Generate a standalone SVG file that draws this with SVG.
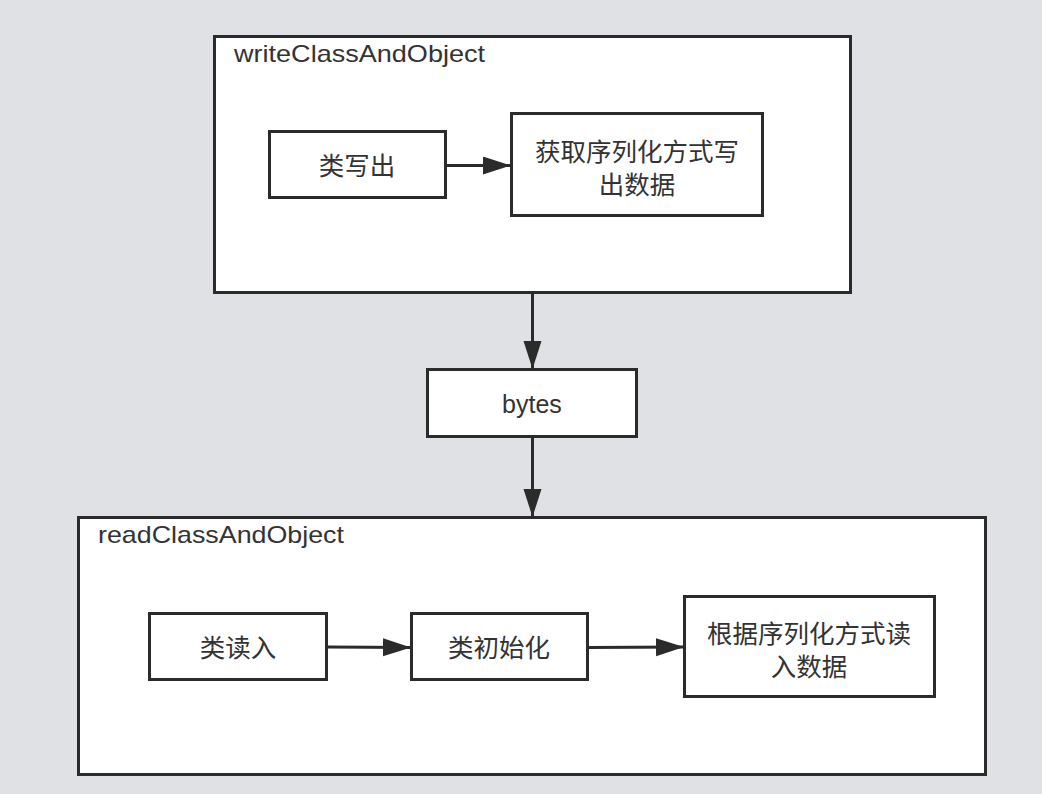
<svg xmlns="http://www.w3.org/2000/svg" width="1042" height="794" viewBox="0 0 1042 794">
<style>
.box{fill:#ffffff;stroke:#2b2b2b;stroke-width:3}
.lbl{font-family:"Liberation Sans","Noto Sans CJK SC",sans-serif;font-size:25.5px;fill:#333333;text-anchor:middle;dominant-baseline:central}
.ttl{font-family:"Liberation Sans","Noto Sans CJK SC",sans-serif;font-size:24px;fill:#333333}
.conn{stroke:#2b2b2b;stroke-width:3;fill:none}
</style>
<defs>
<marker id="arr" markerUnits="userSpaceOnUse" markerWidth="30" markerHeight="20" refX="28" refY="9" orient="auto">
<path d="M0,0 L28,9 L0,18 Z" fill="#2b2b2b"/>
</marker>
</defs>
<rect x="0" y="0" width="1042" height="794" fill="#e0e1e4"/>
<g id="writeClassAndObject">
<rect class="box" x="214.5" y="36.5" width="636" height="256"/>
<text class="ttl" x="234" y="62" textLength="251" lengthAdjust="spacingAndGlyphs">writeClassAndObject</text>
</g>
<g id="readClassAndObject">
<rect class="box" x="78.5" y="517.5" width="907" height="257"/>
<text class="ttl" x="98" y="543" textLength="246" lengthAdjust="spacingAndGlyphs">readClassAndObject</text>
</g>
<g id="classWrite">
<rect class="box" x="269.5" y="131.5" width="176" height="66"/>
<text class="lbl" x="357" y="166">类写出</text>
</g>
<g id="getSerializerWrite">
<rect class="box" x="511.5" y="113.5" width="251" height="102"/>
<text class="lbl"><tspan x="637" y="152">获取序列化方式写</tspan><tspan x="637" y="185">出数据</tspan></text>
</g>
<g id="bytes">
<rect class="box" x="427.5" y="369.5" width="209" height="67"/>
<text class="lbl" x="532" y="404" style="font-size:25px">bytes</text>
</g>
<g id="classRead">
<rect class="box" x="149.5" y="613.5" width="177" height="66"/>
<text class="lbl" x="238" y="648">类读入</text>
</g>
<g id="classInit">
<rect class="box" x="411.5" y="613.5" width="176" height="66"/>
<text class="lbl" x="499" y="648">类初始化</text>
</g>
<g id="getSerializerRead">
<rect class="box" x="684.5" y="596.5" width="250" height="100"/>
<text class="lbl"><tspan x="809" y="634">根据序列化方式读</tspan><tspan x="809" y="667">入数据</tspan></text>
</g>
<g id="connectors">
<line class="conn" x1="446" y1="165.5" x2="511" y2="165.5" marker-end="url(#arr)"/>
<line class="conn" x1="532.5" y1="293" x2="532.5" y2="369" marker-end="url(#arr)"/>
<line class="conn" x1="532.5" y1="437" x2="532.5" y2="517" marker-end="url(#arr)"/>
<line class="conn" x1="327" y1="647" x2="411" y2="647.5" marker-end="url(#arr)"/>
<line class="conn" x1="588" y1="647.5" x2="684" y2="647" marker-end="url(#arr)"/>
</g>
</svg>
